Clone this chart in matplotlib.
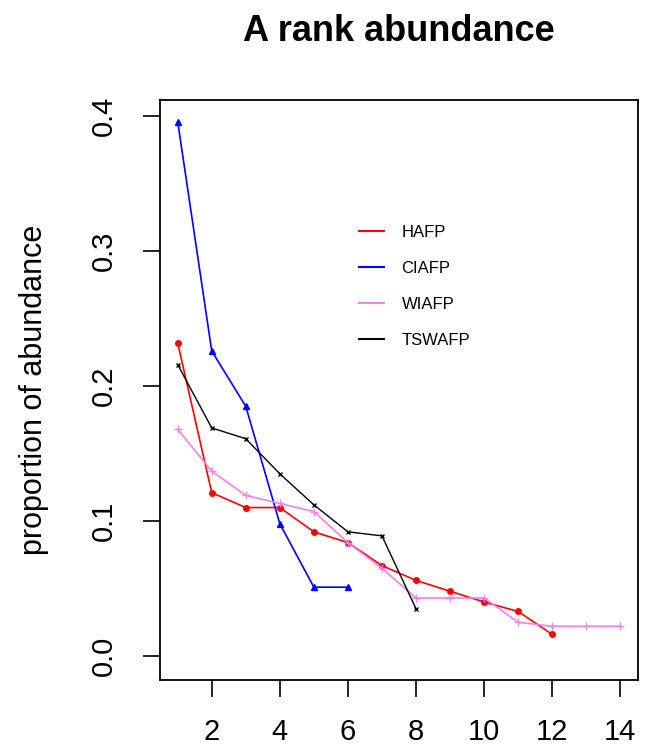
import matplotlib
matplotlib.use("Agg")
import matplotlib.pyplot as plt

plt.rcParams['font.family'] = ['Liberation Sans', 'DejaVu Sans']

rank_hafp = list(range(1, 13))
hafp = [0.232, 0.121, 0.110, 0.110, 0.092, 0.084, 0.067, 0.056, 0.048, 0.040, 0.033, 0.016]
rank_ciafp = list(range(1, 7))
ciafp = [0.396, 0.226, 0.185, 0.098, 0.051, 0.051]
rank_wiafp = list(range(1, 15))
wiafp = [0.168, 0.137, 0.119, 0.113, 0.107, 0.084, 0.065, 0.043, 0.043, 0.043, 0.025, 0.022, 0.022, 0.022]
rank_tswafp = list(range(1, 9))
tswafp = [0.216, 0.169, 0.161, 0.135, 0.112, 0.092, 0.089, 0.035]

fig = plt.figure(figsize=(6.49, 7.48), dpi=100)
ax = fig.add_axes([0.2465, 0.0909, 0.7365, 0.7754])

ax.plot(rank_hafp, hafp, color='#ff0000', marker='o', markersize=4, linewidth=1.2, label='HAFP')
ax.plot(rank_ciafp, ciafp, color='#0000ff', marker='^', markersize=4.5, linewidth=1.2, label='CIAFP')
ax.plot(rank_wiafp, wiafp, color='#ee82ee', marker='+', markersize=6, linewidth=1.2, label='WIAFP')
ax.plot(rank_tswafp, tswafp, color='#000000', marker='x', markersize=3.5, linewidth=1.0, label='TSWAFP')

ax.set_xlim(0.48, 14.52)
ax.set_ylim(-0.0178, 0.412)
ax.set_xticks([2, 4, 6, 8, 10, 12, 14])
ax.set_yticks([0.0, 0.1, 0.2, 0.3, 0.4])
ax.set_yticklabels(['0.0', '0.1', '0.2', '0.3', '0.4'], rotation=90, va='center')
ax.tick_params(axis='both', direction='out', length=12, width=1.2, labelsize=21)
ax.tick_params(axis='x', pad=15)
ax.tick_params(axis='y', pad=18)

for s in ax.spines.values():
    s.set_linewidth(1.3)

ax.set_ylabel('proportion of abundance', fontsize=22, labelpad=30)
fig.text(0.614, 0.958, 'A rank abundance', fontsize=26, fontweight='bold', ha='center', va='center')

leg = ax.legend(loc='upper left', bbox_to_anchor=(0.385, 0.81), frameon=False, fontsize=12,
                handlelength=1.5, labelspacing=1.25, handletextpad=1.05)
for line in leg.get_lines():
    line.set_marker('')
    line.set_linewidth(1.5)

fig.savefig('out.png', dpi=100)
